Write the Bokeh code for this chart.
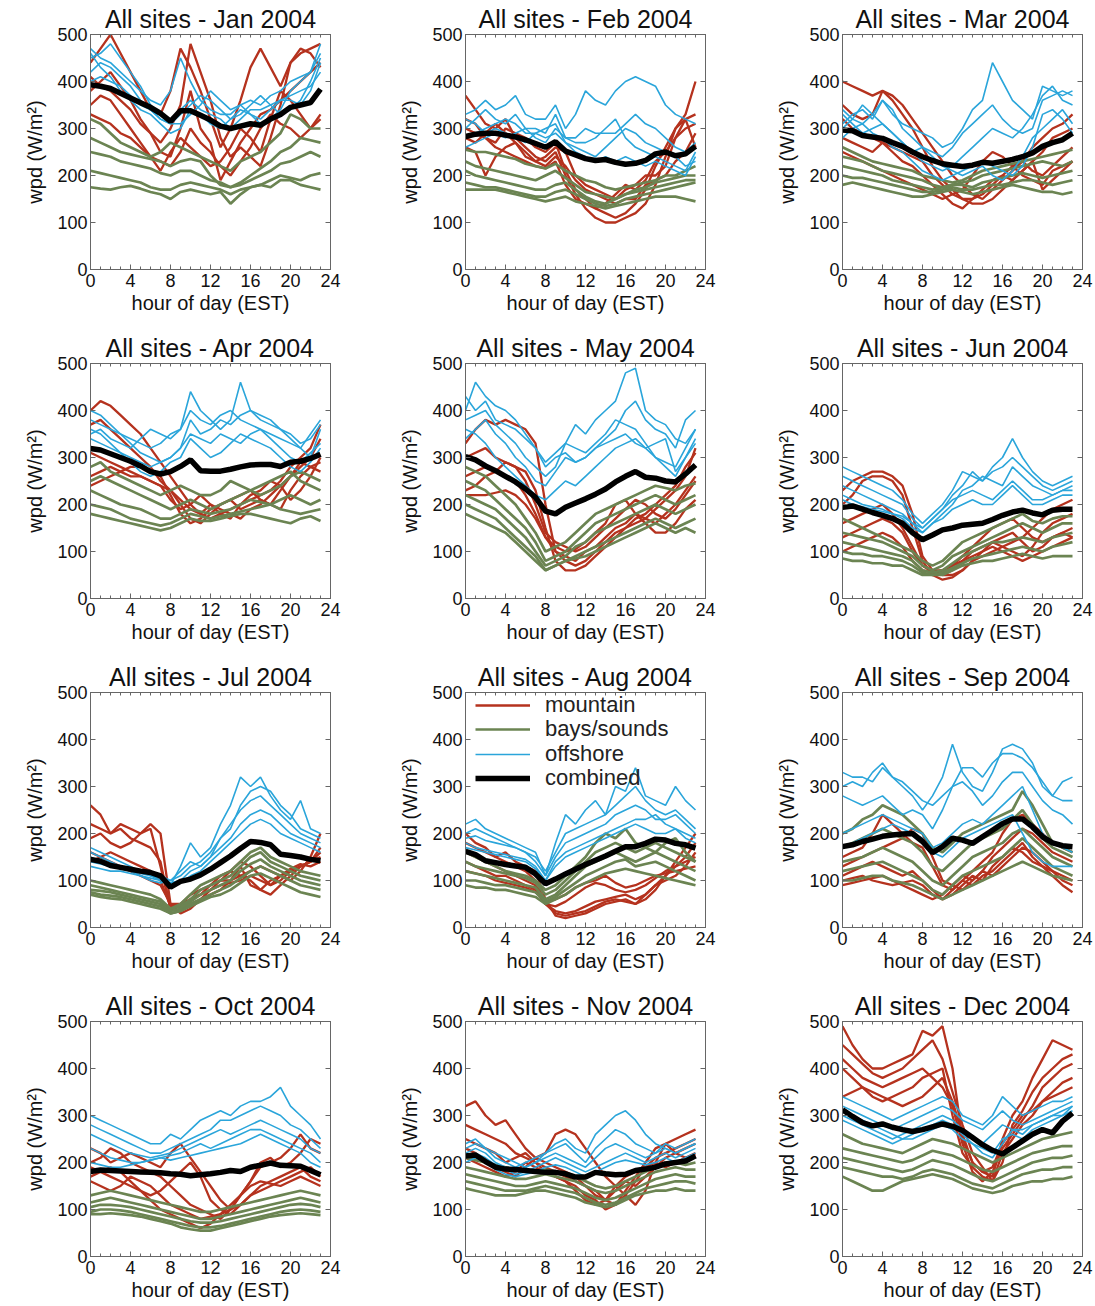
from bokeh.plotting import figure
from bokeh.layouts import gridplot
from bokeh.models import Range1d, FixedTicker, LinearAxis, Legend, LegendItem
from bokeh.embed import file_html
from bokeh.resources import INLINE

HOURS = list(range(24))
YEAR = "2004"
MONTHS = ["Jan", "Feb", "Mar", "Apr", "May", "Jun", "Jul", "Aug", "Sep", "Oct", "Nov", "Dec"]
GROUP_LABELS = ["mountain", "bays/sounds", "offshore", "combined"]
X_TICKS = [0, 4, 8, 12, 16, 20, 24]
X_MINOR = list(range(25))
Y_TICKS = [0, 100, 200, 300, 400, 500]

# ---------------- January ----------------
JAN_MOUNTAIN = [
    [440,470,500,460,420,380,340,330,380,470,430,380,320,260,300,360,430,470,430,390,440,470,460,430],
    [380,400,420,390,360,320,290,250,240,300,380,300,270,190,230,270,300,330,340,360,380,400,420,440],
    [350,370,360,330,300,270,240,210,250,280,260,240,220,230,260,300,280,250,320,380,360,330,300,320],
    [410,390,380,360,340,310,290,270,300,350,480,420,360,280,240,260,240,220,280,350,440,460,470,480],
    [330,320,310,290,280,260,240,230,220,250,300,270,250,220,200,230,260,300,330,310,300,280,300,330],
]
JAN_BAYS = [
    [320,310,290,270,260,250,240,250,270,260,250,240,230,220,210,230,240,250,270,290,330,320,300,300],
    [280,270,260,250,245,240,235,230,220,230,235,230,200,180,175,185,200,215,230,250,260,280,275,270],
    [250,245,240,230,225,220,215,205,200,210,210,200,190,185,175,180,190,200,210,225,230,240,250,240],
    [210,205,200,195,190,185,175,170,170,180,185,180,175,170,160,170,175,180,190,200,195,190,200,205],
    [175,172,170,175,178,172,165,160,150,165,170,165,160,165,140,160,175,180,175,190,190,180,175,170],
]
JAN_OFFSHORE = [
    [470,450,440,420,400,380,360,350,380,450,400,360,340,330,330,350,360,350,370,380,400,410,420,480],
    [450,460,480,450,420,390,350,330,320,340,360,340,330,320,300,320,340,340,350,360,360,350,380,440],
    [420,440,430,410,390,360,340,320,310,310,330,350,380,360,340,350,330,310,320,340,380,400,420,460],
    [400,410,400,390,370,350,340,320,310,330,350,370,360,340,320,330,350,370,350,330,340,360,400,450],
    [460,430,410,380,360,340,330,310,290,300,340,330,310,300,320,340,330,320,340,360,370,380,390,420],
]
JAN_COMBINED = [393,390,385,375,365,355,345,332,315,338,338,328,318,305,300,305,310,307,320,330,345,350,355,384]

# ---------------- February ----------------
FEB_MOUNTAIN = [
    [370,340,310,300,320,280,260,240,230,250,200,160,130,110,100,100,110,120,140,180,240,300,330,400],
    [300,290,280,270,300,290,280,260,250,270,210,170,150,130,120,110,120,140,170,220,260,300,320,330],
    [280,270,290,310,290,270,250,230,240,260,250,200,180,170,160,150,170,180,200,200,220,280,300,310],
    [260,250,200,240,260,270,240,230,220,240,220,190,170,160,150,140,150,150,180,190,200,230,250,290],
    [320,310,280,260,250,240,230,220,215,230,180,150,140,130,140,160,180,170,190,230,250,280,320,260],
]
FEB_BAYS = [
    [255,250,250,245,240,235,225,220,215,225,210,200,190,185,175,170,175,180,185,190,200,200,210,220],
    [230,220,215,210,205,200,195,190,200,210,195,180,165,160,155,150,160,170,175,185,190,195,200,200],
    [210,200,195,190,185,180,175,170,170,180,185,170,155,145,140,150,160,165,170,175,180,185,190,190],
    [185,180,175,175,170,165,160,155,155,165,170,160,150,140,135,140,150,155,160,165,170,175,180,185],
    [170,170,170,170,165,160,155,150,145,150,155,145,140,135,130,135,140,145,150,155,155,155,150,145],
]
FEB_OFFSHORE = [
    [330,340,360,340,350,370,330,320,320,350,300,330,380,360,350,380,400,410,400,390,350,330,320,310],
    [300,320,340,320,310,330,300,300,290,330,280,280,300,290,290,290,310,330,310,300,280,260,250,270],
    [280,290,300,310,320,310,290,290,280,290,270,260,250,240,260,280,300,290,270,260,250,240,220,230],
    [320,310,290,300,290,280,270,290,300,310,270,250,240,230,240,230,240,230,220,230,220,210,200,240],
    [260,270,280,290,280,290,300,280,270,300,280,270,270,280,300,320,280,260,250,240,230,220,210,250],
]
FEB_COMBINED = [283,288,290,290,286,282,276,268,260,272,252,244,236,232,234,228,224,226,232,246,250,242,246,262]

# ---------------- March ----------------
MAR_MOUNTAIN = [
    [400,390,380,370,380,370,350,320,290,260,230,200,180,160,150,170,190,210,230,260,280,300,310,330],
    [350,330,320,330,380,360,330,300,260,220,190,170,150,140,140,150,170,190,210,230,250,280,290,300],
    [320,300,290,280,270,260,250,240,230,200,180,160,150,150,160,180,200,220,230,210,200,220,240,260],
    [280,270,260,250,270,250,230,220,200,180,160,140,130,150,170,190,200,190,210,230,170,190,210,230],
    [250,240,230,220,210,200,190,180,170,160,150,160,170,200,230,250,240,220,200,190,180,210,220,230],
]
MAR_BAYS = [
    [260,250,240,230,225,220,215,210,200,195,190,185,190,200,210,215,220,225,230,235,240,245,250,255],
    [240,235,230,220,210,205,200,195,190,180,175,180,185,190,200,205,210,215,220,225,230,225,220,230],
    [220,215,210,205,200,190,185,180,175,170,175,180,180,175,185,190,195,200,205,200,195,200,205,210],
    [200,195,195,190,185,180,175,170,165,165,170,175,170,170,175,180,180,185,190,190,185,180,185,190],
    [180,185,180,175,170,165,160,155,155,160,165,170,165,160,165,170,175,180,175,170,165,165,160,165],
]
MAR_OFFSHORE = [
    [310,330,340,320,360,330,310,300,290,280,260,270,300,340,360,440,400,360,340,320,390,380,370,380],
    [340,320,310,330,360,340,300,280,260,250,240,260,290,310,330,350,320,300,290,300,360,370,380,370],
    [300,320,350,330,310,290,270,250,230,220,210,220,240,260,280,300,290,280,300,330,370,390,360,350],
    [280,300,310,290,280,260,250,230,210,200,190,200,210,220,230,220,210,200,220,260,330,340,320,290],
    [330,310,290,300,310,290,270,250,260,240,220,210,200,210,220,200,190,210,240,280,300,320,340,310],
]
MAR_COMBINED = [297,295,285,282,279,270,262,250,240,232,225,222,219,222,228,226,230,234,240,248,262,270,276,290]

# ---------------- April ----------------
APR_MOUNTAIN = [
    [400,420,410,390,370,350,320,290,260,230,200,180,170,180,190,200,210,220,230,250,280,300,320,370],
    [370,380,360,340,320,300,280,250,230,210,190,180,200,190,180,170,190,200,220,240,260,280,300,340],
    [310,300,290,280,270,260,250,240,230,200,170,160,180,200,210,190,200,210,200,230,260,290,280,270],
    [260,270,280,270,260,260,250,240,210,190,200,220,200,180,170,200,220,230,250,240,210,230,260,300],
    [240,250,260,270,280,280,270,260,220,180,160,170,190,200,210,220,230,210,200,190,230,260,280,290],
]
APR_BAYS = [
    [280,290,270,260,250,240,230,220,230,240,230,220,220,230,250,240,230,220,230,240,260,270,260,250],
    [250,260,250,240,230,220,210,200,190,200,210,200,190,200,210,220,230,240,250,260,270,250,240,230],
    [230,220,210,200,195,190,180,170,170,180,190,185,180,185,190,200,210,205,200,210,220,210,200,210],
    [200,195,190,180,170,165,160,155,160,170,180,175,170,175,180,185,190,195,200,190,185,180,185,190],
    [180,175,170,165,160,155,150,145,150,160,170,165,165,170,175,180,180,175,170,165,160,170,175,165],
]
APR_OFFSHORE = [
    [380,370,360,350,340,330,320,330,350,360,400,380,370,390,400,380,370,360,350,340,330,320,350,380],
    [350,360,340,330,320,340,360,350,340,360,440,400,380,360,380,460,400,390,380,360,340,320,300,360],
    [400,390,370,350,330,310,300,290,300,320,380,350,360,380,370,390,400,380,370,360,350,330,340,370],
    [340,330,320,310,300,290,280,290,300,320,350,340,330,350,340,330,350,360,340,320,300,290,310,330],
    [360,350,330,310,290,270,260,270,290,300,340,320,300,310,330,350,340,330,320,300,280,270,290,320],
]
APR_COMBINED = [319,316,308,300,292,282,270,265,270,281,295,272,271,271,275,280,284,285,285,281,290,292,298,307]

# ---------------- May ----------------
MAY_MOUNTAIN = [
    [330,360,380,370,380,370,360,330,200,100,80,70,80,100,120,140,150,160,170,190,210,230,260,320],
    [300,310,320,300,290,280,270,230,150,80,60,60,70,90,110,130,150,170,180,200,220,240,280,310],
    [260,270,280,270,260,250,220,180,130,100,90,80,100,110,130,150,160,180,170,160,180,200,230,260],
    [230,240,260,270,290,280,250,200,140,120,110,100,110,130,150,170,190,210,200,180,170,190,220,250],
    [220,220,220,225,230,220,200,170,130,110,100,105,120,140,160,200,210,180,160,140,140,160,190,210],
]
MAY_BAYS = [
    [280,270,260,240,220,200,170,140,100,110,120,140,160,180,190,200,210,220,230,240,235,230,240,245],
    [250,240,230,210,190,170,150,120,80,90,100,120,140,160,170,180,190,200,210,220,210,200,210,220],
    [220,210,200,190,170,150,130,100,70,80,90,110,120,140,150,160,170,180,190,200,190,180,190,200],
    [200,190,180,170,150,130,110,90,60,70,80,90,100,110,120,130,140,150,160,170,160,150,160,170],
    [180,170,160,150,140,120,100,80,60,70,80,85,90,100,110,120,130,140,150,160,150,140,150,140],
]
MAY_OFFSHORE = [
    [430,400,420,380,370,360,340,320,290,310,330,370,350,380,400,420,480,490,400,380,370,340,330,360],
    [400,460,430,410,400,380,350,320,280,300,310,290,300,320,340,360,400,420,380,360,350,320,380,400],
    [380,390,400,370,350,330,300,280,260,280,330,320,310,330,350,380,370,360,330,300,290,280,320,360],
    [340,360,380,350,330,300,280,250,240,270,300,290,300,320,330,340,350,330,320,330,340,270,300,340],
    [360,350,330,300,280,260,240,220,210,230,250,240,260,280,300,320,330,340,320,300,280,260,300,330],
]
MAY_COMBINED = [302,295,282,272,260,248,233,215,186,180,194,203,212,222,233,248,260,270,258,256,250,248,265,284]

# ---------------- June ----------------
JUN_MOUNTAIN = [
    [230,250,260,270,270,260,240,180,90,60,50,50,60,80,90,100,110,120,130,150,170,190,200,210],
    [200,220,250,260,260,250,220,150,80,50,40,45,60,80,100,120,110,100,90,110,140,160,170,180],
    [160,170,180,190,200,180,150,110,70,55,50,60,80,100,110,120,130,140,120,100,110,130,140,150],
    [130,140,150,160,170,160,140,100,70,60,60,70,90,110,130,150,160,170,150,130,120,130,140,130],
    [100,110,120,130,140,130,110,80,60,55,60,70,80,90,100,110,100,90,80,90,100,110,120,130],
]
JUN_BAYS = [
    [170,160,150,140,130,120,110,100,80,70,80,100,120,130,140,150,160,170,180,165,160,170,175,175],
    [140,135,130,125,120,110,100,90,70,60,70,90,100,110,120,130,140,150,160,150,140,150,160,160],
    [120,115,110,105,100,95,90,80,60,55,60,75,90,100,110,120,120,125,130,125,120,130,135,140],
    [100,95,95,90,90,85,80,70,55,50,55,65,75,85,90,95,100,105,110,105,100,110,115,120],
    [85,80,80,75,75,70,70,60,50,50,50,60,70,75,80,80,85,90,95,90,85,90,90,90],
]
JUN_OFFSHORE = [
    [280,270,260,250,240,230,210,180,160,180,200,230,270,260,250,280,300,340,300,270,250,240,250,260],
    [260,250,240,230,220,210,200,170,150,170,190,220,240,270,250,270,280,300,280,260,240,230,240,250],
    [240,230,220,210,200,190,180,160,140,160,180,200,230,240,260,250,240,280,260,240,230,220,230,240],
    [220,210,200,195,190,180,175,160,150,170,190,210,220,230,220,210,230,250,230,210,210,220,230,230],
    [210,200,195,190,185,180,170,150,140,160,170,190,200,210,200,200,220,240,220,200,200,210,220,220],
]
JUN_COMBINED = [194,197,190,183,177,170,160,140,125,135,146,150,156,158,160,168,177,184,188,182,178,188,190,190]

# ---------------- July ----------------
JUL_MOUNTAIN = [
    [260,240,200,210,190,180,170,140,40,35,50,60,70,80,100,130,90,80,100,110,100,120,150,200],
    [220,210,200,220,210,200,220,200,50,30,40,60,80,100,120,110,100,80,70,90,110,130,140,170],
    [190,200,180,170,180,200,210,130,40,45,60,70,90,110,120,140,130,110,90,100,120,130,140,150],
    [160,150,160,150,140,130,120,100,45,50,70,80,90,100,100,110,120,130,120,110,120,130,140,160],
    [140,150,140,130,120,110,100,90,50,50,60,70,80,90,95,100,110,100,90,110,125,135,130,140],
]
JUL_BAYS = [
    [100,95,90,85,80,75,70,60,40,50,70,90,100,110,120,140,160,170,150,140,130,120,115,110],
    [90,85,80,75,70,65,60,55,40,45,60,80,90,100,110,130,150,160,140,130,120,110,105,100],
    [80,78,75,70,65,60,55,50,35,40,55,70,80,90,100,120,135,145,130,120,110,100,95,90],
    [75,70,68,65,60,55,50,45,30,35,50,60,70,80,90,105,120,130,120,110,100,90,85,80],
    [70,65,62,60,55,50,45,40,30,35,45,55,65,70,80,95,110,115,105,95,85,75,70,65],
]
JUL_OFFSHORE = [
    [170,160,150,140,130,120,110,100,90,130,180,150,170,220,260,320,300,320,280,250,230,270,210,200],
    [160,150,140,130,120,110,100,95,100,120,140,130,150,190,210,260,290,300,290,260,240,210,200,190],
    [150,140,135,130,125,120,115,110,100,110,130,140,160,190,220,250,270,280,260,240,220,200,190,180],
    [140,135,130,125,120,115,110,105,95,100,120,130,150,170,190,220,240,250,240,220,200,190,180,170],
    [130,125,120,120,115,110,105,100,90,95,110,120,140,160,180,200,220,230,220,200,190,180,170,160],
]
JUL_COMBINED = [145,141,132,128,124,120,117,110,86,98,103,112,124,138,152,168,183,181,176,156,153,150,145,142]

# ---------------- August ----------------
AUG_MOUNTAIN = [
    [200,180,170,150,160,140,130,120,60,25,20,25,30,40,50,55,60,50,60,80,110,140,170,200],
    [180,170,160,150,140,130,120,100,50,30,25,30,35,45,55,60,55,50,70,90,110,130,150,180],
    [160,150,140,130,120,110,100,90,50,35,30,35,45,55,60,65,70,60,70,90,100,110,130,160],
    [140,130,120,110,110,100,90,80,50,45,55,70,85,95,90,80,75,80,90,105,120,130,140,150],
    [120,115,110,100,95,90,85,75,55,60,70,85,95,100,110,95,85,90,100,110,115,120,125,130],
]
AUG_BAYS = [
    [160,150,140,130,120,115,110,100,80,90,110,130,150,180,200,190,210,180,170,160,180,190,160,140],
    [140,130,125,120,115,110,105,95,70,80,100,120,140,160,170,180,170,160,170,180,170,160,150,140],
    [120,115,110,105,100,95,90,85,60,70,90,110,130,140,150,160,150,140,150,160,150,140,130,120],
    [100,100,95,90,90,85,80,75,55,65,80,95,110,120,130,140,145,130,135,140,130,120,110,100],
    [90,85,85,80,80,75,70,65,50,60,70,85,95,105,115,120,125,120,115,110,105,100,95,90],
]
AUG_OFFSHORE = [
    [220,230,210,200,190,180,170,160,110,180,240,220,250,270,240,300,290,340,280,270,260,300,270,250],
    [200,210,200,190,180,170,160,150,120,160,200,210,220,230,240,260,280,300,270,250,240,250,230,210],
    [190,195,185,180,175,170,160,140,110,150,180,190,200,210,220,240,250,260,250,230,230,240,220,200],
    [180,170,165,160,155,150,145,130,100,140,160,170,180,190,200,210,220,230,230,240,220,210,200,190],
    [170,165,160,155,150,145,140,125,100,130,150,160,170,180,190,200,210,220,210,200,200,210,190,180],
]
AUG_COMBINED = [162,155,142,138,134,131,128,114,93,103,114,124,134,143,152,162,172,172,179,188,186,179,176,169]

# ---------------- September ----------------
SEP_MOUNTAIN = [
    [150,160,170,200,240,220,200,180,170,130,90,80,100,120,140,160,200,230,240,220,200,180,170,160],
    [130,140,150,160,170,180,190,210,200,150,100,90,110,100,120,150,170,190,210,200,180,160,150,140],
    [110,120,130,140,130,120,110,120,100,80,60,70,90,110,100,130,150,170,160,140,130,120,110,100],
    [100,105,110,100,95,90,95,100,90,70,60,80,100,90,110,120,140,160,180,150,130,110,90,75],
    [90,95,100,105,110,100,90,80,70,60,70,90,80,100,120,110,130,150,170,160,140,120,100,90],
]
SEP_BAYS = [
    [200,210,230,240,260,250,240,220,200,170,160,180,200,210,220,230,240,250,290,260,220,180,170,160],
    [170,180,190,200,210,200,190,180,160,130,120,140,160,180,190,200,210,230,250,220,190,170,160,150],
    [140,145,150,160,170,160,150,140,120,100,90,110,130,150,160,170,180,200,210,190,170,150,140,130],
    [120,125,130,135,140,130,120,110,100,80,70,90,110,120,130,140,150,170,190,170,150,130,120,110],
    [100,100,105,110,110,100,95,90,80,70,60,70,80,90,100,110,120,130,140,130,120,110,105,100],
]
SEP_OFFSHORE = [
    [330,320,320,310,340,320,300,280,250,280,320,390,330,300,290,330,380,390,380,350,300,280,310,320],
    [300,310,300,330,350,320,310,290,270,260,280,300,340,340,320,350,370,370,360,340,310,280,270,270],
    [280,270,260,270,280,260,240,250,240,210,250,300,310,290,260,280,310,330,330,300,270,250,240,220],
    [200,210,220,230,240,230,220,210,200,170,180,200,220,230,220,240,260,280,300,250,200,180,170,160],
    [170,180,190,200,210,220,210,200,190,160,150,170,190,200,210,220,230,240,200,160,140,130,130,130],
]
SEP_COMBINED = [172,176,183,188,194,197,199,200,183,159,172,190,186,179,193,207,221,231,231,214,193,180,174,172]

# ---------------- October ----------------
OCT_MOUNTAIN = [
    [230,220,200,210,220,210,200,190,220,240,210,180,150,120,100,130,160,190,200,210,230,260,230,220],
    [200,210,230,220,200,190,180,170,150,130,110,100,90,80,100,130,160,200,210,190,200,220,250,240],
    [190,180,170,160,150,140,130,140,160,180,200,170,120,100,90,110,130,150,160,170,180,190,170,160],
    [170,180,190,180,160,140,120,100,90,80,70,60,70,90,100,110,130,140,150,160,170,180,190,170],
    [160,150,140,150,170,160,150,130,110,100,90,80,85,90,110,130,150,160,155,150,160,170,160,150],
]
OCT_BAYS = [
    [130,135,140,135,130,125,120,115,110,105,100,95,95,100,105,110,115,120,125,130,135,140,135,130],
    [115,120,125,120,115,110,105,100,95,90,85,80,80,85,90,95,100,105,110,115,120,125,120,115],
    [105,110,110,108,105,100,95,90,85,80,75,72,72,75,80,85,90,95,100,105,110,112,110,105],
    [95,100,100,98,95,90,85,80,75,70,65,62,62,65,70,75,80,85,90,95,98,100,98,95],
    [90,90,92,90,88,85,80,75,70,62,58,55,55,60,65,70,75,80,85,88,90,92,90,88],
]
OCT_OFFSHORE = [
    [300,290,280,270,260,250,240,240,260,250,270,290,300,310,300,320,330,330,340,360,320,300,280,250],
    [280,270,260,250,240,230,220,220,230,240,250,260,270,290,290,300,310,320,310,300,280,270,250,230],
    [260,250,240,230,220,215,210,215,220,230,240,250,260,270,260,270,280,290,280,270,260,250,230,220],
    [230,220,210,205,200,200,205,210,215,220,230,240,230,240,250,260,270,270,260,250,240,230,220,200],
    [200,195,190,190,195,200,205,210,205,210,215,220,225,230,235,240,250,260,250,240,230,220,200,190],
]
OCT_COMBINED = [181,184,183,182,181,180,179,178,176,175,172,174,176,179,183,181,190,194,199,194,193,192,183,174]

# ---------------- November ----------------
NOV_MOUNTAIN = [
    [320,330,300,280,290,260,230,210,220,260,270,260,230,200,170,150,130,110,140,200,240,250,260,270],
    [280,270,260,250,240,220,210,200,190,180,170,160,150,140,120,110,130,160,190,210,220,230,240,250],
    [250,240,230,220,200,210,220,200,180,170,160,150,130,120,100,110,140,170,200,230,240,220,230,240],
    [230,220,200,190,180,170,190,210,200,190,180,170,150,130,120,140,160,150,170,190,210,220,210,220],
    [210,200,190,180,170,180,200,190,180,170,160,140,120,110,120,150,170,180,190,200,190,200,210,215],
]
NOV_BAYS = [
    [210,205,200,195,190,185,180,180,185,180,175,170,160,150,145,150,160,170,180,190,200,200,195,200],
    [190,185,180,175,170,165,165,170,175,170,165,160,150,140,135,140,150,160,170,180,185,190,185,185],
    [175,170,165,160,155,150,150,155,160,155,150,145,135,125,120,125,135,145,155,165,170,175,170,170],
    [160,155,150,145,140,140,140,145,150,145,140,135,125,115,110,115,125,135,145,150,155,160,160,155],
    [145,140,135,130,130,130,135,140,140,135,130,125,115,110,105,110,120,130,135,140,140,145,140,140],
]
NOV_OFFSHORE = [
    [240,250,230,220,210,200,190,200,220,240,250,230,220,260,280,300,310,290,260,240,230,220,230,240],
    [230,240,230,210,200,190,200,210,220,230,240,220,200,230,250,270,260,240,230,220,240,230,240,250],
    [220,230,220,200,190,180,190,200,210,220,210,200,190,210,230,240,230,220,210,220,230,220,230,240],
    [210,220,210,195,185,175,180,190,200,210,200,190,180,190,200,210,220,210,200,210,220,210,220,230],
    [200,210,200,185,175,170,175,180,190,195,190,180,170,180,190,200,205,200,195,200,210,200,210,220],
]
NOV_COMBINED = [214,216,202,190,186,185,183,181,179,179,176,169,169,179,176,174,175,183,186,190,197,200,203,214]

# ---------------- December ----------------
DEC_MOUNTAIN = [
    [490,450,420,400,400,410,420,430,480,470,490,400,250,200,180,170,250,300,330,380,420,460,450,440],
    [450,430,410,390,380,390,400,420,440,460,420,350,280,220,190,160,200,280,310,350,380,400,420,430],
    [420,400,380,370,360,370,380,390,400,380,360,320,240,180,160,180,230,260,290,320,360,380,400,410],
    [400,380,360,340,330,340,350,360,380,390,400,300,220,190,170,160,220,250,280,300,330,350,370,380],
    [340,350,360,350,340,330,320,330,340,360,380,330,260,200,180,190,240,270,300,310,330,340,350,360],
]
DEC_BAYS = [
    [260,250,240,235,230,225,220,230,240,250,245,240,230,220,210,200,210,220,230,240,250,255,260,265],
    [230,225,220,215,210,205,200,205,215,225,220,215,205,195,185,180,190,200,210,220,225,230,235,235],
    [210,205,200,195,190,185,180,185,195,205,200,195,185,175,165,160,170,180,190,200,205,210,210,215],
    [190,185,180,175,170,170,165,170,180,185,180,175,165,155,150,145,155,165,175,180,185,185,190,190],
    [170,160,150,140,140,150,160,165,170,175,170,165,155,145,140,135,140,150,155,160,160,165,165,170],
]
DEC_OFFSHORE = [
    [340,330,320,310,300,290,300,310,320,330,340,330,300,290,280,300,340,320,300,310,320,330,330,340],
    [320,310,300,290,280,270,280,290,300,310,320,310,290,280,270,290,310,290,280,290,300,310,320,330],
    [300,290,280,270,260,250,260,270,280,290,300,290,270,250,240,260,280,270,260,280,290,300,310,320],
    [290,280,270,260,250,240,250,260,270,280,290,280,260,240,230,220,250,260,250,270,280,290,300,310],
    [310,300,290,280,270,260,250,250,260,270,280,270,250,240,220,210,240,270,270,280,290,300,300,320],
]
DEC_COMBINED = [312,298,285,278,282,275,270,266,270,276,282,277,268,253,238,226,218,232,246,260,270,263,288,305]

PANELS = [
    (JAN_MOUNTAIN, JAN_BAYS, JAN_OFFSHORE, JAN_COMBINED),
    (FEB_MOUNTAIN, FEB_BAYS, FEB_OFFSHORE, FEB_COMBINED),
    (MAR_MOUNTAIN, MAR_BAYS, MAR_OFFSHORE, MAR_COMBINED),
    (APR_MOUNTAIN, APR_BAYS, APR_OFFSHORE, APR_COMBINED),
    (MAY_MOUNTAIN, MAY_BAYS, MAY_OFFSHORE, MAY_COMBINED),
    (JUN_MOUNTAIN, JUN_BAYS, JUN_OFFSHORE, JUN_COMBINED),
    (JUL_MOUNTAIN, JUL_BAYS, JUL_OFFSHORE, JUL_COMBINED),
    (AUG_MOUNTAIN, AUG_BAYS, AUG_OFFSHORE, AUG_COMBINED),
    (SEP_MOUNTAIN, SEP_BAYS, SEP_OFFSHORE, SEP_COMBINED),
    (OCT_MOUNTAIN, OCT_BAYS, OCT_OFFSHORE, OCT_COMBINED),
    (NOV_MOUNTAIN, NOV_BAYS, NOV_OFFSHORE, NOV_COMBINED),
    (DEC_MOUNTAIN, DEC_BAYS, DEC_OFFSHORE, DEC_COMBINED),
]

FONT = "Liberation Sans"
COLORS = ["#b5321e", "#6b8452", "#2aa5da", "#000000"]
WIDTHS = [2.3, 2.7, 1.6, 5.5]
AX_COLOR = "#666666"
COL_RIGHT = [45, 47, 13]
ROW_BOTTOM = [60, 60, 60, 0]
LEGEND_ROW_Y = [209, 185, 160, 136]   # legend entry offsets (px) from the frame bottom


def style_axis(ax):
    ax.axis_line_color = AX_COLOR
    ax.major_tick_line_color = AX_COLOR
    ax.minor_tick_line_color = AX_COLOR
    ax.major_tick_in = 5
    ax.major_tick_out = 0
    ax.minor_tick_in = 3
    ax.minor_tick_out = 0
    ax.major_label_text_font = FONT
    ax.major_label_text_color = "#111111"
    ax.major_label_text_font_size = "18px"
    ax.major_label_standoff = 3
    ax.axis_label_text_font = FONT
    ax.axis_label_text_font_size = "20px"
    ax.axis_label_text_font_style = "normal"
    ax.axis_label_text_color = "#111111"


def tick_only_axis(ticks, tick_len):
    # an unlabeled mirror axis: positions are given as minor ticks only
    ax = LinearAxis(ticker=FixedTicker(ticks=[], minor_ticks=ticks))
    ax.axis_line_color = AX_COLOR
    ax.minor_tick_line_color = AX_COLOR
    ax.minor_tick_in = tick_len
    ax.minor_tick_out = 0
    ax.major_tick_in = 0
    ax.major_tick_out = 0
    ax.major_label_standoff = 0
    return ax


def make_panel(idx):
    row, col = divmod(idx, 3)
    mtn, bays, off, comb = PANELS[idx]
    p = figure(frame_width=240, frame_height=235,
               min_border_left=90, min_border_right=COL_RIGHT[col],
               min_border_top=34, min_border_bottom=ROW_BOTTOM[row],
               x_range=Range1d(0, 24), y_range=Range1d(0, 500),
               output_backend="svg", toolbar_location=None,
               title=f"All sites - {MONTHS[idx]} {YEAR}")
    p.title.align = "center"
    p.title.text_font = FONT
    p.title.text_font_size = "25px"
    p.title.text_font_style = "normal"
    p.title.text_color = "#111111"
    p.title.standoff = 4
    p.xgrid.visible = False
    p.ygrid.visible = False
    p.outline_line_color = AX_COLOR
    p.background_fill_color = "white"
    p.border_fill_color = "white"

    p.xaxis.ticker = FixedTicker(ticks=X_TICKS, minor_ticks=X_MINOR)
    p.yaxis.ticker = FixedTicker(ticks=Y_TICKS, minor_ticks=[])
    p.xaxis.axis_label = "hour of day (EST)"
    p.yaxis.axis_label = "wpd (W/m²)"
    style_axis(p.xaxis[0])
    style_axis(p.yaxis[0])
    p.xaxis.major_label_standoff = 4
    p.xaxis.axis_label_standoff = 2
    p.yaxis.axis_label_standoff = 8

    p.add_layout(tick_only_axis(X_MINOR, 3), "above")
    p.add_layout(tick_only_axis(Y_TICKS, 5), "right")

    renderers = []
    for grp, color, lw in zip((mtn, bays, off), COLORS[:3], WIDTHS[:3]):
        r = p.multi_line(xs=[HOURS[:len(s)] for s in grp], ys=grp,
                         line_color=color, line_width=lw)
        renderers.append(r)
    rc = p.line(HOURS[:len(comb)], comb, line_color=COLORS[3], line_width=WIDTHS[3])
    renderers.append(rc)

    if MONTHS[idx] == "Aug":
        for lab, r, vy in zip(GROUP_LABELS, renderers, LEGEND_ROW_Y):
            leg = Legend(items=[LegendItem(label=lab, renderers=[r])], location=(10, vy))
            leg.label_text_font = FONT
            leg.label_text_font_size = "22px"
            leg.label_text_color = "#222222"
            leg.glyph_width = 55
            leg.glyph_height = 20
            leg.label_height = 20
            leg.spacing = 0
            leg.padding = 0
            leg.margin = 0
            leg.label_standoff = 15
            leg.border_line_alpha = 0
            leg.background_fill_alpha = 0
            p.add_layout(leg)
    return p


figs = [make_panel(i) for i in range(12)]
grid = gridplot([figs[i:i + 3] for i in range(0, 12, 3)], toolbar_location=None)

open("out.html", "w").write(file_html(grid, INLINE))
